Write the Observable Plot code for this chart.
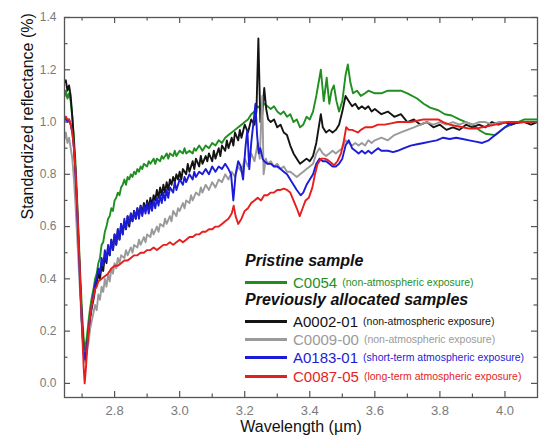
<!DOCTYPE html>
<html><head><meta charset="utf-8">
<script src="https://cdn.jsdelivr.net/npm/d3@7"></script>
<script src="https://cdn.jsdelivr.net/npm/@observablehq/plot@0.6"></script>
<style>
body{margin:0;background:#fff;font-family:"Liberation Sans",Arial,sans-serif}
#wrap{position:relative;width:547px;height:437px}
.head{position:absolute;left:245px;font-weight:bold;font-style:italic;font-size:16px;color:#111;line-height:18px;white-space:nowrap}
.row{position:absolute;left:245px;height:18px;display:flex;align-items:center;white-space:nowrap}
.sw{width:42px;height:0;border-top:3px solid;margin-right:6px}
.nm{font-size:15px}
.nt{font-size:10.5px;margin-left:5px}
</style>
</head><body>
<div id="wrap"></div>
<script>
// ---- data (wavelength µm, standardized reflectance) ----
const C0054 = [[2.645,1.10],[2.650,1.12],[2.655,1.09],[2.660,1.11],[2.665,1.08],[2.670,1.02],[2.675,0.94],[2.680,0.84],[2.685,0.70],[2.690,0.55],[2.695,0.40],[2.700,0.27],[2.705,0.17],[2.710,0.13],[2.715,0.18],[2.720,0.24],[2.725,0.29],[2.730,0.33],[2.735,0.36],[2.740,0.40],[2.745,0.42],[2.750,0.46],[2.755,0.48],[2.760,0.53],[2.765,0.54],[2.770,0.58],[2.775,0.60],[2.780,0.63],[2.785,0.64],[2.790,0.67],[2.795,0.66],[2.800,0.70],[2.805,0.71],[2.810,0.73],[2.815,0.72],[2.820,0.75],[2.825,0.76],[2.830,0.78],[2.835,0.76],[2.840,0.79],[2.845,0.78],[2.850,0.80],[2.855,0.79],[2.860,0.81],[2.865,0.80],[2.870,0.82],[2.875,0.81],[2.880,0.83],[2.885,0.82],[2.890,0.84],[2.900,0.83],[2.905,0.85],[2.910,0.84],[2.920,0.86],[2.925,0.84],[2.930,0.86],[2.940,0.85],[2.945,0.87],[2.950,0.86],[2.960,0.88],[2.965,0.86],[2.970,0.88],[2.980,0.87],[2.985,0.89],[2.990,0.87],[3.000,0.89],[3.010,0.88],[3.015,0.90],[3.020,0.88],[3.030,0.89],[3.040,0.88],[3.045,0.90],[3.050,0.89],[3.060,0.91],[3.070,0.89],[3.080,0.91],[3.090,0.90],[3.100,0.92],[3.110,0.91],[3.120,0.93],[3.130,0.92],[3.140,0.94],[3.150,0.95],[3.160,0.96],[3.170,0.97],[3.180,0.98],[3.190,0.99],[3.200,1.00],[3.210,1.01],[3.220,1.03],[3.230,1.04],[3.240,1.06],[3.250,1.05],[3.260,1.07],[3.270,1.06],[3.280,1.05],[3.290,1.06],[3.300,1.04],[3.310,1.03],[3.320,1.04],[3.330,1.02],[3.340,1.03],[3.350,1.00],[3.360,1.01],[3.370,0.98],[3.380,0.99],[3.390,1.02],[3.400,1.01],[3.410,1.04],[3.420,1.10],[3.434,1.20],[3.443,1.08],[3.452,1.17],[3.460,1.07],[3.467,1.12],[3.474,1.14],[3.482,1.08],[3.490,1.04],[3.500,1.08],[3.510,1.18],[3.517,1.22],[3.525,1.15],[3.533,1.11],[3.545,1.12],[3.557,1.10],[3.570,1.11],[3.580,1.12],[3.600,1.11],[3.620,1.11],[3.640,1.12],[3.660,1.12],[3.680,1.12],[3.700,1.11],[3.730,1.09],[3.750,1.07],[3.770,1.055],[3.795,1.045],[3.815,1.03],[3.836,1.025],[3.860,1.01],[3.880,1.00],[3.900,0.99],[3.920,0.97],[3.940,0.955],[3.970,0.95],[3.985,0.965],[4.000,0.98],[4.020,0.99],[4.040,1.00],[4.060,1.01],[4.080,1.01],[4.100,1.01]];
const A0002 = [[2.645,1.15],[2.650,1.16],[2.655,1.12],[2.660,1.14],[2.665,1.10],[2.670,1.02],[2.675,0.92],[2.680,0.80],[2.685,0.65],[2.690,0.50],[2.695,0.35],[2.700,0.22],[2.705,0.12],[2.710,0.09],[2.715,0.14],[2.720,0.20],[2.725,0.25],[2.730,0.29],[2.735,0.32],[2.740,0.36],[2.745,0.38],[2.750,0.42],[2.755,0.40],[2.760,0.45],[2.765,0.43],[2.770,0.49],[2.775,0.46],[2.780,0.52],[2.785,0.49],[2.790,0.55],[2.795,0.51],[2.800,0.57],[2.805,0.53],[2.810,0.59],[2.815,0.55],[2.820,0.61],[2.825,0.57],[2.830,0.62],[2.835,0.59],[2.840,0.64],[2.845,0.60],[2.850,0.65],[2.855,0.62],[2.860,0.66],[2.865,0.63],[2.870,0.67],[2.875,0.64],[2.880,0.68],[2.885,0.65],[2.890,0.69],[2.895,0.66],[2.900,0.70],[2.905,0.67],[2.910,0.71],[2.915,0.68],[2.920,0.72],[2.925,0.70],[2.930,0.74],[2.935,0.71],[2.940,0.75],[2.945,0.72],[2.950,0.76],[2.955,0.73],[2.960,0.77],[2.965,0.74],[2.970,0.78],[2.975,0.76],[2.980,0.79],[2.985,0.77],[2.990,0.80],[2.995,0.78],[3.000,0.81],[3.005,0.78],[3.010,0.82],[3.020,0.80],[3.025,0.84],[3.030,0.81],[3.040,0.85],[3.045,0.82],[3.050,0.86],[3.060,0.83],[3.065,0.87],[3.070,0.84],[3.080,0.87],[3.085,0.85],[3.090,0.88],[3.100,0.85],[3.105,0.89],[3.110,0.86],[3.120,0.90],[3.125,0.87],[3.130,0.91],[3.140,0.89],[3.145,0.93],[3.150,0.90],[3.160,0.94],[3.165,0.91],[3.170,0.96],[3.180,0.93],[3.185,0.97],[3.190,0.94],[3.200,0.99],[3.210,0.96],[3.220,1.01],[3.230,0.99],[3.236,1.04],[3.242,1.32],[3.248,1.00],[3.254,1.03],[3.260,1.13],[3.266,1.05],[3.272,1.01],[3.280,1.00],[3.290,1.01],[3.300,0.98],[3.310,0.99],[3.320,0.96],[3.330,0.95],[3.340,0.91],[3.350,0.88],[3.360,0.86],[3.370,0.84],[3.380,0.85],[3.390,0.86],[3.400,0.85],[3.410,0.87],[3.420,0.92],[3.434,1.03],[3.440,0.98],[3.450,0.96],[3.460,0.97],[3.470,0.96],[3.480,0.97],[3.490,0.99],[3.500,1.04],[3.510,1.10],[3.520,1.08],[3.530,1.06],[3.540,1.07],[3.550,1.05],[3.560,1.06],[3.570,1.05],[3.580,1.06],[3.590,1.04],[3.600,1.05],[3.620,1.03],[3.640,1.04],[3.660,1.02],[3.680,1.03],[3.700,1.00],[3.720,1.01],[3.740,0.99],[3.760,1.00],[3.780,0.98],[3.800,0.99],[3.820,0.97],[3.840,0.98],[3.860,0.97],[3.880,0.99],[3.900,0.98],[3.920,0.99],[3.940,0.98],[3.960,1.00],[3.980,0.99],[4.000,1.00],[4.020,0.99],[4.040,1.00],[4.060,1.00],[4.080,0.99],[4.100,1.00]];
const C0009 = [[2.645,0.93],[2.650,0.96],[2.655,0.92],[2.660,0.94],[2.665,0.90],[2.670,0.86],[2.675,0.78],[2.680,0.68],[2.685,0.56],[2.690,0.44],[2.695,0.32],[2.700,0.20],[2.705,0.11],[2.710,0.08],[2.715,0.12],[2.720,0.16],[2.725,0.21],[2.730,0.24],[2.735,0.27],[2.740,0.30],[2.745,0.28],[2.750,0.34],[2.755,0.32],[2.760,0.37],[2.765,0.35],[2.770,0.40],[2.775,0.37],[2.780,0.42],[2.785,0.39],[2.790,0.44],[2.795,0.42],[2.800,0.46],[2.805,0.44],[2.810,0.48],[2.815,0.46],[2.820,0.49],[2.830,0.48],[2.835,0.51],[2.840,0.49],[2.850,0.52],[2.855,0.50],[2.860,0.53],[2.870,0.52],[2.875,0.55],[2.880,0.53],[2.890,0.56],[2.895,0.54],[2.900,0.57],[2.910,0.56],[2.915,0.59],[2.920,0.57],[2.930,0.60],[2.935,0.58],[2.940,0.61],[2.950,0.60],[2.955,0.63],[2.960,0.61],[2.970,0.64],[2.975,0.62],[2.980,0.66],[2.990,0.64],[2.995,0.67],[3.000,0.66],[3.010,0.69],[3.015,0.67],[3.020,0.70],[3.030,0.69],[3.035,0.72],[3.040,0.70],[3.050,0.73],[3.060,0.72],[3.065,0.75],[3.070,0.73],[3.080,0.76],[3.090,0.74],[3.100,0.77],[3.110,0.75],[3.120,0.78],[3.130,0.77],[3.140,0.80],[3.150,0.78],[3.160,0.81],[3.170,0.79],[3.180,0.83],[3.190,0.81],[3.200,0.86],[3.210,0.83],[3.220,0.88],[3.230,0.85],[3.240,0.92],[3.246,0.86],[3.254,1.10],[3.258,0.80],[3.265,0.86],[3.270,0.84],[3.280,0.85],[3.290,0.83],[3.300,0.84],[3.310,0.82],[3.320,0.83],[3.330,0.81],[3.340,0.81],[3.350,0.80],[3.360,0.79],[3.370,0.80],[3.380,0.81],[3.390,0.82],[3.400,0.83],[3.410,0.84],[3.420,0.88],[3.430,0.90],[3.440,0.88],[3.450,0.87],[3.460,0.88],[3.470,0.89],[3.480,0.88],[3.490,0.89],[3.500,0.90],[3.510,0.93],[3.520,0.92],[3.530,0.91],[3.540,0.92],[3.550,0.91],[3.560,0.92],[3.570,0.91],[3.580,0.93],[3.590,0.92],[3.600,0.93],[3.620,0.94],[3.640,0.93],[3.660,0.95],[3.680,0.96],[3.700,0.97],[3.720,0.98],[3.740,0.99],[3.760,1.00],[3.780,0.99],[3.800,1.00],[3.820,0.99],[3.840,1.00],[3.860,0.99],[3.880,1.00],[3.900,0.99],[3.920,1.00],[3.940,1.00],[3.960,0.99],[3.980,1.00],[4.000,1.00],[4.040,1.00],[4.080,1.00],[4.100,1.00]];
const A0183 = [[2.645,1.00],[2.650,1.02],[2.655,1.00],[2.660,1.01],[2.665,0.99],[2.670,0.96],[2.675,0.90],[2.680,0.80],[2.685,0.66],[2.690,0.51],[2.695,0.36],[2.700,0.22],[2.705,0.12],[2.710,0.09],[2.715,0.14],[2.720,0.20],[2.725,0.26],[2.730,0.30],[2.735,0.34],[2.740,0.38],[2.745,0.40],[2.750,0.44],[2.755,0.42],[2.760,0.48],[2.765,0.45],[2.770,0.51],[2.775,0.47],[2.780,0.53],[2.785,0.49],[2.790,0.55],[2.795,0.51],[2.800,0.57],[2.805,0.53],[2.810,0.59],[2.815,0.55],[2.820,0.61],[2.825,0.57],[2.830,0.63],[2.835,0.59],[2.840,0.64],[2.845,0.61],[2.850,0.65],[2.855,0.62],[2.860,0.66],[2.865,0.63],[2.870,0.67],[2.875,0.63],[2.880,0.68],[2.885,0.64],[2.890,0.68],[2.895,0.65],[2.900,0.69],[2.905,0.65],[2.910,0.69],[2.915,0.66],[2.920,0.70],[2.925,0.67],[2.930,0.71],[2.935,0.68],[2.940,0.72],[2.945,0.69],[2.950,0.73],[2.955,0.70],[2.960,0.74],[2.965,0.71],[2.970,0.75],[2.980,0.73],[2.985,0.77],[2.990,0.74],[3.000,0.78],[3.010,0.76],[3.015,0.79],[3.020,0.77],[3.030,0.80],[3.040,0.78],[3.045,0.81],[3.050,0.79],[3.060,0.81],[3.070,0.80],[3.080,0.82],[3.090,0.80],[3.100,0.83],[3.110,0.81],[3.120,0.83],[3.130,0.82],[3.140,0.84],[3.150,0.82],[3.158,0.80],[3.165,0.70],[3.172,0.80],[3.180,0.85],[3.188,0.83],[3.195,0.78],[3.202,0.90],[3.208,0.97],[3.214,0.82],[3.220,0.92],[3.227,1.00],[3.233,1.07],[3.238,0.95],[3.243,0.88],[3.248,0.90],[3.255,0.86],[3.260,0.85],[3.270,0.84],[3.280,0.84],[3.290,0.83],[3.300,0.83],[3.310,0.82],[3.320,0.81],[3.330,0.80],[3.340,0.78],[3.350,0.76],[3.360,0.74],[3.372,0.72],[3.380,0.73],[3.390,0.76],[3.400,0.78],[3.410,0.80],[3.420,0.84],[3.430,0.86],[3.440,0.85],[3.450,0.85],[3.460,0.84],[3.470,0.83],[3.480,0.83],[3.490,0.84],[3.500,0.86],[3.510,0.91],[3.520,0.93],[3.530,0.90],[3.540,0.89],[3.550,0.88],[3.560,0.89],[3.570,0.88],[3.580,0.89],[3.590,0.88],[3.600,0.89],[3.610,0.90],[3.620,0.89],[3.640,0.89],[3.656,0.885],[3.670,0.89],[3.690,0.90],[3.710,0.91],[3.730,0.915],[3.750,0.92],[3.770,0.925],[3.790,0.93],[3.810,0.94],[3.830,0.935],[3.850,0.94],[3.870,0.935],[3.890,0.93],[3.910,0.925],[3.930,0.92],[3.950,0.93],[3.970,0.95],[3.990,0.97],[4.010,0.99],[4.030,0.995],[4.060,1.00],[4.100,1.00]];
const C0087 = [[2.645,1.01],[2.650,1.02],[2.655,1.01],[2.660,1.01],[2.665,0.99],[2.670,0.96],[2.675,0.90],[2.680,0.81],[2.685,0.68],[2.690,0.53],[2.695,0.37],[2.700,0.21],[2.705,0.06],[2.708,0.00],[2.712,0.06],[2.716,0.14],[2.720,0.20],[2.725,0.26],[2.730,0.30],[2.735,0.33],[2.740,0.36],[2.745,0.37],[2.750,0.39],[2.760,0.40],[2.770,0.41],[2.780,0.42],[2.790,0.44],[2.800,0.45],[2.810,0.45],[2.820,0.46],[2.830,0.47],[2.840,0.47],[2.850,0.48],[2.860,0.49],[2.870,0.49],[2.880,0.50],[2.890,0.50],[2.900,0.51],[2.910,0.51],[2.920,0.52],[2.930,0.51],[2.940,0.52],[2.950,0.53],[2.960,0.53],[2.970,0.54],[2.980,0.53],[2.990,0.54],[3.000,0.55],[3.010,0.54],[3.020,0.55],[3.030,0.56],[3.040,0.56],[3.050,0.57],[3.060,0.57],[3.070,0.58],[3.080,0.58],[3.090,0.59],[3.100,0.59],[3.110,0.60],[3.120,0.60],[3.130,0.61],[3.140,0.62],[3.150,0.63],[3.160,0.65],[3.166,0.68],[3.172,0.64],[3.180,0.61],[3.190,0.63],[3.200,0.66],[3.210,0.67],[3.220,0.69],[3.230,0.70],[3.240,0.71],[3.250,0.70],[3.260,0.72],[3.270,0.72],[3.280,0.73],[3.290,0.73],[3.300,0.74],[3.310,0.74],[3.320,0.745],[3.330,0.74],[3.340,0.73],[3.350,0.70],[3.360,0.67],[3.369,0.64],[3.378,0.67],[3.387,0.70],[3.397,0.71],[3.408,0.75],[3.416,0.80],[3.424,0.84],[3.435,0.86],[3.445,0.86],[3.455,0.855],[3.465,0.845],[3.475,0.835],[3.485,0.85],[3.496,0.88],[3.505,0.93],[3.512,0.98],[3.520,0.97],[3.530,0.97],[3.548,0.96],[3.557,0.97],[3.570,0.98],[3.590,0.98],[3.610,0.99],[3.630,0.99],[3.650,0.995],[3.670,1.00],[3.690,1.00],[3.710,1.00],[3.730,1.005],[3.750,1.01],[3.770,1.01],[3.795,1.01],[3.810,1.00],[3.830,0.99],[3.850,0.985],[3.870,0.98],[3.890,0.975],[3.910,0.975],[3.930,0.98],[3.950,0.985],[3.970,0.99],[3.990,0.995],[4.010,1.00],[4.040,1.00],[4.070,1.00],[4.100,1.00]];

const sampleNames = ["C0054","A0002-01","C0009-00","A0183-01","C0087-05"];
const sampleNotes = ["(non-atmospheric exposure)","(non-atmospheric exposure)","(non-atmospheric exposure)","(short-term atmospheric exposure)","(long-term atmospheric exposure)"];
const sampleColors = ["#1f8f1f","#141414","#9a9a9a","#1c1cd8","#e61e1e"];
const sampleData = [C0054, A0002, C0009, A0183, C0087];
const groupHeads = ["Pristine sample","Previously allocated samples"];

const xMajor = [2.8,3.0,3.2,3.4,3.6,3.8,4.0];
const xMinor = [2.7,2.9,3.1,3.3,3.5,3.7,3.9];
const yMajor = [0.0,0.2,0.4,0.6,0.8,1.0,1.2,1.4];
const yMinor = [0.1,0.3,0.5,0.7,0.9,1.1,1.3];

// ---- layout ----
const W = 547, H = 437, mL = 64, mR = 10, mT = 17, mB = 40;
const iW = W - mL - mR, iH = H - mT - mB;
const tickColor = "#555";

const xTicks = (vals, len) => [
  Plot.ruleX(vals, {stroke: tickColor, strokeWidth: 1.2, insetTop: iH - len}),
  Plot.ruleX(vals, {stroke: tickColor, strokeWidth: 1.2, insetBottom: iH - len})
];
const yTicks = (vals, len) => [
  Plot.ruleY(vals, {stroke: tickColor, strokeWidth: 1.2, insetRight: iW - len}),
  Plot.ruleY(vals, {stroke: tickColor, strokeWidth: 1.2, insetLeft: iW - len})
];

const chart = Plot.plot({
  width: W, height: H,
  marginLeft: mL, marginRight: mR, marginTop: mT, marginBottom: mB,
  x: {domain: [2.646, 4.10]},
  y: {domain: [-0.054, 1.4]},
  style: {fontFamily: "'Liberation Sans', Arial, sans-serif", background: "white", overflow: "visible"},
  marks: [
    ...sampleData.map((s, i) => Plot.line(s, {x: d => d[0], y: d => d[1], stroke: sampleColors[i], strokeWidth: 1.9, clip: true})),
    Plot.frame({stroke: tickColor, strokeWidth: 1.3}),
    ...xTicks(xMajor, 6), ...xTicks(xMinor, 3.5),
    ...yTicks(yMajor, 6), ...yTicks(yMinor, 3.5),
    Plot.axisX(xMajor, {anchor: "bottom", tickSize: 0, tickPadding: 8, tickFormat: d3.format(".1f"), fontSize: 13, fill: "#7a7a7a", label: null}),
    Plot.axisY(yMajor, {anchor: "left", tickSize: 0, tickPadding: 8, tickFormat: d3.format(".1f"), fontSize: 12, fill: "#7a7a7a", label: null}),
    Plot.text(["Wavelength (µm)"], {text: d => d, frameAnchor: "bottom", lineAnchor: "bottom", dy: 34, fontSize: 16, fill: "#111"}),
    Plot.text(["Standardized reflectance (%)"], {text: d => d, frameAnchor: "left", dx: -37, dy: 12, rotate: -90, fontSize: 16, fill: "#111"})
  ]
});
const wrap = document.getElementById("wrap");
wrap.appendChild(chart);

// ---- legend (HTML overlay inside plot area) ----
const headTops = [255, 294];
const rowCenters = [282, 321, 339, 357, 376];
groupHeads.forEach((h, i) => {
  const d = document.createElement("div");
  d.className = "head"; d.style.top = (headTops[i] - 3) + "px"; d.textContent = h;
  wrap.appendChild(d);
});
sampleNames.forEach((n, i) => {
  const r = document.createElement("div");
  r.className = "row"; r.style.top = (rowCenters[i] - 9) + "px"; r.style.color = sampleColors[i];
  r.innerHTML = `<span class="sw" style="border-color:${sampleColors[i]}"></span><span class="nm">${n}</span><span class="nt">${sampleNotes[i]}</span>`;
  wrap.appendChild(r);
});
</script>
</body></html>
